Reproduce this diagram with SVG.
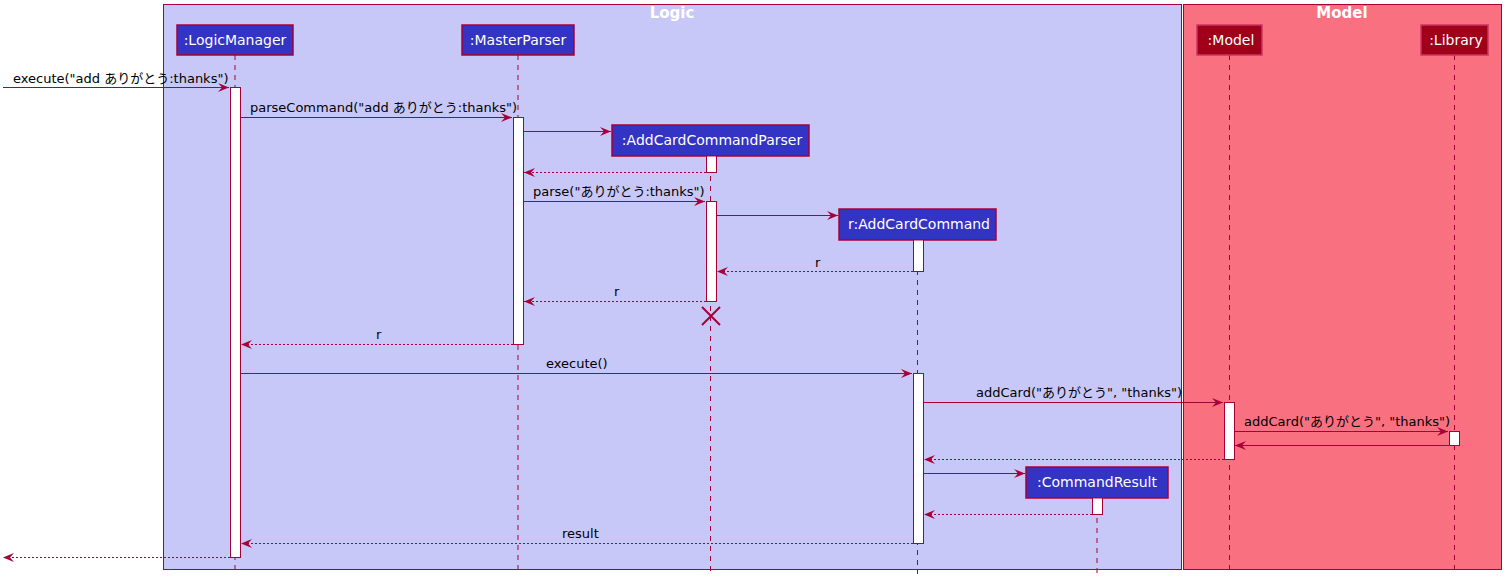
<svg xmlns="http://www.w3.org/2000/svg" width="1511" height="586" viewBox="0 0 1511 586">
<defs>
<marker id="ah" markerWidth="12" markerHeight="10" refX="11" refY="4.5" orient="auto" markerUnits="userSpaceOnUse">
<path d="M0,0 L11,4.5 L0,9 L4,4.5 Z" fill="#A80036"/>
</marker>
<style>
.box{stroke:#A80036;stroke-width:1}
.ttl{font-family:"DejaVu Sans","Noto Sans",sans-serif;font-size:15px;font-weight:bold;fill:#FFFFFF;text-anchor:middle}
.plog{fill:#3333C4;stroke:#A80036;stroke-width:1.5}
.pmod{fill:#A0001A;stroke:#C83560;stroke-width:1.5}
.pt{font-family:"DejaVu Sans","Noto Sans",sans-serif;font-size:14px;fill:#FFFFFF;text-anchor:middle}
.life{stroke:#A80036;stroke-width:1;stroke-dasharray:5,5;fill:none}
.act{fill:#FFFFFF;stroke:#A80036;stroke-width:1}
.msg{stroke:#A80036;stroke-width:1;fill:none;marker-end:url(#ah)}
.ret{stroke:#A80036;stroke-width:1;stroke-dasharray:2,2;fill:none;marker-end:url(#ah)}
.lbl{font-family:"DejaVu Sans","Noto Sans CJK JP",sans-serif;font-size:13px;fill:#000000}
</style>
</defs>
<rect width="1511" height="586" fill="#FFFFFF"/>
<g id="box-logic">
<rect class="box" x="163.5" y="4.5" width="1018" height="565" fill="#C8C8F8"/>
<text class="ttl" x="672" y="18">Logic</text>
</g>
<g id="box-model">
<rect class="box" x="1183.5" y="4.5" width="318" height="565" fill="#F97181"/>
<text class="ttl" x="1342" y="18">Model</text>
</g>
<g id="lifelines">
<line class="life" x1="235" y1="55" x2="235" y2="574"/>
<line class="life" x1="518" y1="55" x2="518" y2="574"/>
<line class="life" x1="710.5" y1="156" x2="710.5" y2="574"/>
<line class="life" x1="917.5" y1="240" x2="917.5" y2="574"/>
<line class="life" x1="1229.5" y1="55" x2="1229.5" y2="574"/>
<line class="life" x1="1454.5" y1="55" x2="1454.5" y2="574"/>
<line class="life" x1="1097" y1="498" x2="1097" y2="574"/>
</g>
<g id="LogicManager">
<rect class="plog" x="177" y="25" width="116" height="30"/>
<text class="pt" x="235" y="45">:LogicManager</text>
<rect class="act" x="230.5" y="87.5" width="10" height="470"/>
</g>
<g id="MasterParser">
<rect class="plog" x="462" y="25" width="112" height="30"/>
<text class="pt" x="518" y="45">:MasterParser</text>
<rect class="act" x="513.5" y="117.5" width="10" height="227"/>
</g>
<g id="AddCardCommandParser">
<rect class="plog" x="612" y="125" width="197" height="31"/>
<text class="pt" x="712" y="145">:AddCardCommandParser</text>
<rect class="act" x="706.5" y="156" width="10" height="16.5"/>
<rect class="act" x="706.5" y="201.5" width="10" height="100"/>
<path d="M702,307 L720,325 M702,325 L720,307" stroke="#A80036" stroke-width="2" fill="none"/>
</g>
<g id="AddCardCommand">
<rect class="plog" x="839" y="209" width="157" height="31"/>
<text class="pt" x="919" y="229">r:AddCardCommand</text>
<rect class="act" x="913.5" y="240" width="10" height="31.5"/>
<rect class="act" x="913.5" y="373.5" width="10" height="170"/>
</g>
<g id="Model">
<rect class="pmod" x="1197" y="25" width="65" height="30"/>
<text class="pt" x="1231" y="45">:Model</text>
<rect class="act" x="1224.5" y="402.5" width="10" height="57"/>
</g>
<g id="Library">
<rect class="pmod" x="1421" y="25" width="67" height="30"/>
<text class="pt" x="1456" y="45">:Library</text>
<rect class="act" x="1449.5" y="431.5" width="10" height="14"/>
</g>
<g id="CommandResult">
<rect class="plog" x="1026" y="467" width="142" height="31"/>
<text class="pt" x="1097" y="487">:CommandResult</text>
<rect class="act" x="1092.5" y="498" width="10" height="16.5"/>
</g>
<g id="connectors">
<line class="msg" x1="3" y1="87.5" x2="229" y2="87.5"/>
<text class="lbl" x="13" y="83">execute("add ありがとう:thanks")</text>
<line class="msg" x1="241" y1="117.5" x2="512" y2="117.5"/>
<text class="lbl" x="250" y="112">parseCommand("add ありがとう:thanks")</text>
<line class="msg" x1="524" y1="131.5" x2="611" y2="131.5"/>
<line class="ret" x1="706" y1="172.5" x2="524" y2="172.5"/>
<line class="msg" x1="524" y1="201.5" x2="705" y2="201.5"/>
<text class="lbl" x="533" y="196">parse("ありがとう:thanks")</text>
<line class="msg" x1="717" y1="215.5" x2="838" y2="215.5"/>
<line class="ret" x1="913" y1="271.5" x2="717" y2="271.5"/>
<text class="lbl" x="815" y="267">r</text>
<line class="ret" x1="706" y1="301.5" x2="524" y2="301.5"/>
<text class="lbl" x="614" y="296">r</text>
<line class="ret" x1="513" y1="344.5" x2="241" y2="344.5"/>
<text class="lbl" x="376" y="339">r</text>
<line class="msg" x1="241" y1="373.5" x2="912" y2="373.5"/>
<text class="lbl" x="546" y="368">execute()</text>
<line class="msg" x1="924" y1="402.5" x2="1223" y2="402.5"/>
<text class="lbl" x="976" y="397">addCard("ありがとう", "thanks")</text>
<line class="msg" x1="1235" y1="431.5" x2="1448" y2="431.5"/>
<text class="lbl" x="1244" y="426">addCard("ありがとう", "thanks")</text>
<line class="msg" x1="1449" y1="445.5" x2="1235" y2="445.5"/>
<line class="ret" x1="1224" y1="459.5" x2="924" y2="459.5"/>
<line class="msg" x1="924" y1="473.5" x2="1025" y2="473.5"/>
<line class="ret" x1="1092" y1="514.5" x2="924" y2="514.5"/>
<line class="ret" x1="913" y1="543.5" x2="241" y2="543.5"/>
<text class="lbl" x="562" y="538">result</text>
<line class="ret" x1="230" y1="557.5" x2="3" y2="557.5"/>
</g>
</svg>
